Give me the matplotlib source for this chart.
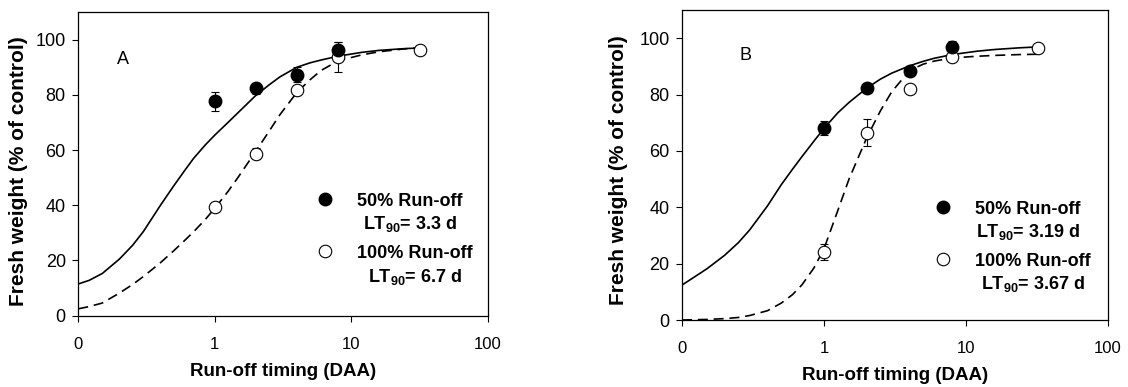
import numpy as np
import matplotlib
matplotlib.use("Agg")
import matplotlib.pyplot as plt
from matplotlib.lines import Line2D
from matplotlib.ticker import FixedLocator, FixedFormatter, NullLocator

plt.rcParams['font.family'] = ['Liberation Sans', 'DejaVu Sans']
plt.rcParams['mathtext.fontset'] = 'custom'
plt.rcParams['mathtext.rm'] = 'Liberation Sans:bold'
plt.rcParams['mathtext.bf'] = 'Liberation Sans:bold'
plt.rcParams['mathtext.default'] = 'bf'

# run-off timing (days after anthesis)
days = [1, 2, 4, 8, 32]

# panel A
a_50 = [77.6, 82.3, 87.3, 96.1]
a_50_err = [3.4, 2.0, 2.6, 3.0]
a_100 = [39.2, 58.7, 81.7, 93.7, 96.4]
a_100_err = [1.0, 2.0, 1.0, 5.4, 0.8]

# panel B
b_50 = [68.2, 82.3, 88.5, 97.0]
b_50_err = [2.5, 1.5, 1.5, 2.0]
b_100 = [24.1, 66.5, 82.1, 93.5, 96.5]
b_100_err = [2.8, 4.7, 1.0, 1.0, 0.8]

# fitted curves
curve_x = [0.1, 0.12, 0.15, 0.2, 0.25, 0.3, 0.4, 0.5, 0.6, 0.7, 0.85, 1, 1.25,
           1.5, 2, 2.5, 3, 4, 5, 6, 8, 12, 16, 24, 32]
a_fit_50 = [11.5, 12.8, 15.3, 20.5, 25.5, 30.5, 40.0, 47.0, 52.5, 57.0, 61.8, 65.4, 70.0,
            73.8, 79.8, 83.6, 86.5, 90.0, 91.6, 92.6, 94.0, 95.4, 96.1, 96.7, 97.0]
a_fit_100 = [2.5, 3.3, 4.6, 8.2, 11.3, 14.2, 19.2, 23.5, 27.2, 30.4, 34.8, 38.9, 45.0,
             50.5, 59.6, 66.8, 72.8, 80.9, 85.5, 88.8, 92.3, 94.5, 95.6, 96.6, 97.1]
b_fit_50 = [12.4, 15.0, 18.2, 23.0, 27.5, 32.0, 40.5, 48.0, 53.5, 58.0, 63.5, 68.0, 73.5,
            77.2, 82.3, 85.5, 87.6, 90.2, 91.8, 92.9, 94.2, 95.4, 96.0, 96.6, 96.9]
b_fit_100 = [0.0, 0.1, 0.2, 0.5, 0.9, 1.6, 3.3, 6.0, 9.0, 12.5, 18.5, 25.3, 38.8,
             50.0, 64.7, 74.3, 81.0, 88.5, 90.8, 91.9, 93.0, 93.6, 93.9, 94.2, 94.3]

xticks = [0.1, 1, 10, 100]
xticklabels = ['0', '1', '10', '100']
yticks = [0, 20, 40, 60, 80, 100]

panels = [
    ('A', a_50, a_50_err, a_100, a_100_err, a_fit_50, a_fit_100,
     ['3.3', '6.7'], [0.0694, 0.1842, 0.3630, 0.7848], (0.109, 0.842), (0.581, 0.405),
     (-0.123, 0.476)),
    ('B', b_50, b_50_err, b_100, b_100_err, b_fit_50, b_fit_100,
     ['3.19', '3.67'], [0.6046, 0.1731, 0.3777, 0.8010], (0.150, 0.852), (0.592, 0.385),
     (-0.127, 0.484)),
]

fig = plt.figure(figsize=(11.28, 3.87), dpi=100)

for (letter, f50, f50e, f100, f100e, fit50, fit100, lt, rect, letter_pos,
     leg_pos, ylab_pos) in panels:
    ax = fig.add_axes(rect)
    ax.set_xscale('log')
    ax.set_xlim(0.1, 100)
    ax.set_ylim(0, 110)

    ax.plot(curve_x, fit50, color='black', lw=1.2, zorder=2)
    ax.plot(curve_x, fit100, color='black', lw=1.2, dashes=(6, 3.5), zorder=2)

    ax.errorbar(days[:len(f50)], f50, yerr=f50e, fmt='none', ecolor='black',
                elinewidth=0.8, capsize=3, capthick=0.8, zorder=3)
    ax.errorbar(days, f100, yerr=f100e, fmt='none', ecolor='black',
                elinewidth=0.8, capsize=3, capthick=0.8, zorder=3)
    ax.plot(days[:len(f50)], f50, 'o', color='black', ms=9, zorder=5)
    ax.plot(days, f100, 'o', mfc='white', mec='black', mew=0.8, ms=9, zorder=4)

    ax.text(letter_pos[0], letter_pos[1], letter, transform=ax.transAxes,
            fontsize=13, ha='center', va='center')

    ax.xaxis.set_major_locator(FixedLocator(xticks))
    ax.xaxis.set_major_formatter(FixedFormatter(xticklabels))
    ax.xaxis.set_minor_locator(NullLocator())
    ax.set_yticks(yticks)
    ax.tick_params(axis='both', direction='out', length=4, width=0.8)
    ax.tick_params(axis='x', pad=11, labelsize=12)
    ax.tick_params(axis='y', pad=5, labelsize=13)
    for s in ax.spines.values():
        s.set_linewidth(0.9)

    ax.set_xlabel('Run-off timing (DAA)', fontsize=13.5, fontweight='bold', labelpad=8)
    ax.set_ylabel('Fresh weight (% of control)', fontsize=15, fontweight='bold')
    ax.yaxis.set_label_coords(ylab_pos[0], ylab_pos[1])

    handles = [Line2D([], [], ls='none', marker='o', color='black', ms=9),
               Line2D([], [], ls='none', marker='o', mfc='white', mec='black',
                      mew=0.8, ms=9)]
    labels = ['50% Run-off\nLT$_{90}$= ' + lt[0] + ' d',
              '100% Run-off\nLT$_{90}$= ' + lt[1] + ' d']
    leg = ax.legend(handles, labels, loc='upper left', bbox_to_anchor=leg_pos,
                    frameon=False, borderpad=0, borderaxespad=0,
                    handlelength=1.0, handletextpad=1.27, labelspacing=0.6,
                    prop={'weight': 'bold', 'size': 13})
    for t in leg.get_texts():
        t.set_multialignment('center')
        t.set_linespacing(1.3)
    for col in leg._legend_handle_box.get_children():
        for row in col.get_children():
            row.align = 'top'

fig.savefig('out.png', dpi=100)
